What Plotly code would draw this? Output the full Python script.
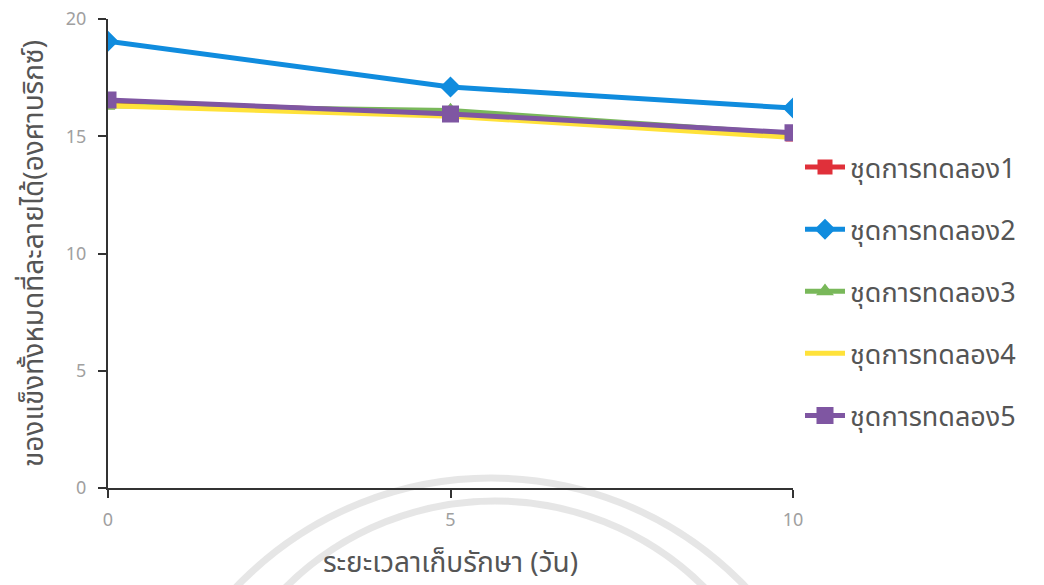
import plotly.graph_objects as go

days = [0, 5, 10]
series_names = ["ชุดการทดลอง1", "ชุดการทดลอง2", "ชุดการทดลอง3", "ชุดการทดลอง4", "ชุดการทดลอง5"]
set1 = [16.5, 15.95, 15.1]
set2 = [19.05, 17.1, 16.2]
set3 = [16.3, 16.1, 15.1]
set4 = [16.3, 15.85, 14.95]
set5 = [16.55, 15.95, 15.15]
y_ticks = [0, 5, 10, 15, 20]
x_ticks = [0, 5, 10]

values = [set1, set2, set3, set4, set5]
colors = ["#E0303A", "#108CDE", "#79B85A", "#FFE23A", "#7F56A2"]
symbols = ["square", "diamond", "triangle-up", "line-ew", "square"]
msizes = [13, 14, 12, 10, 15]

font_family = "'Noto Sans Thai', 'Noto Sans', sans-serif"

# plot area in pixels
L, R, T, B = 108, 793, 19, 488
W, H = 1044, 585


def px_x(p):
    return (p - L) / (R - L)


def px_y(p):
    return (B - p) / (B - T)


fig = go.Figure()
for i, (name, vals, c, s, ms) in enumerate(zip(series_names, values, colors, symbols, msizes)):
    fig.add_trace(go.Scatter(
        x=days, y=vals, name=name, mode="lines+markers", legendgroup=f"g{i}",
        line=dict(color=c, width=5),
        marker=dict(symbol=s, size=ms, color=c, line=dict(color=c, width=2)),
    ))

# faint circular seal printed behind the chart
seal = []
for cx, cy, r in [(491, 830, 352), (495, 798, 297)]:
    seal.append(dict(
        type="circle", xref="paper", yref="paper", layer="below",
        x0=px_x(cx - r), x1=px_x(cx + r), y0=px_y(cy + r), y1=px_y(cy - r),
        line=dict(color="rgba(200,200,200,0.45)", width=7),
    ))

fig.update_layout(
    width=W, height=H,
    margin=dict(l=L, r=W - R, t=T, b=H - B),
    paper_bgcolor="white", plot_bgcolor="rgba(0,0,0,0)",
    font=dict(family=font_family, color="#555"),
    shapes=seal,
    showlegend=True,
    legend=dict(
        x=px_x(800), y=px_y(143), xanchor="left", yanchor="top",
        font=dict(size=27, color="#555"),
        tracegroupgap=24, itemwidth=40,
        bgcolor="rgba(0,0,0,0)",
    ),
    xaxis=dict(
        range=[0, 10], tickvals=x_ticks, ticks="outside", ticklen=8, tickwidth=2,
        tickcolor="#333", showline=True, linecolor="#333", linewidth=2,
        showgrid=False, zeroline=False, ticklabelstandoff=6, automargin=False,
        tickfont=dict(size=18, color="#a0a0a0"),
        title=dict(text="ระยะเวลาเก็บรักษา (วัน)", font=dict(size=28, color="#555"), standoff=32),
    ),
    yaxis=dict(
        range=[0, 20], tickvals=y_ticks, ticks="outside", ticklen=8, tickwidth=2,
        tickcolor="#333", showline=True, linecolor="#333", linewidth=2,
        showgrid=False, zeroline=False, ticklabelstandoff=8, automargin=False,
        tickfont=dict(size=18, color="#a0a0a0"),
        title=dict(text="ของแข็งทั้งหมดที่ละลายได้(องศาบริกซ์)", font=dict(size=28, color="#555"), standoff=14),
    ),
)

fig.write_html("out.html")
